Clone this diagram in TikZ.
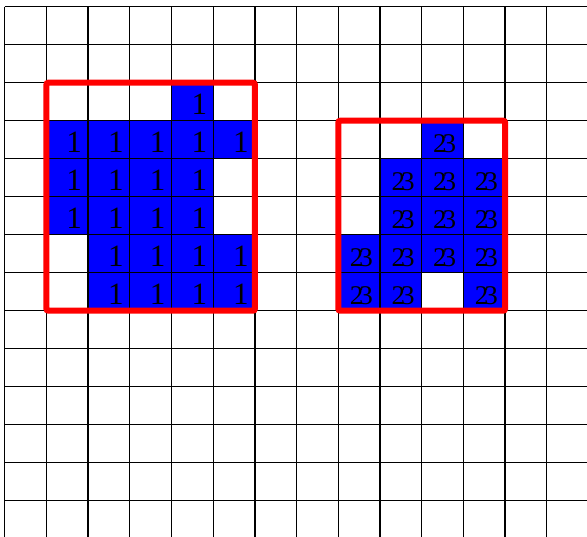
\documentclass[tikz,border=0pt]{standalone}
\usepackage{fontspec}
\setmainfont{Liberation Serif}
\begin{document}
\begin{tikzpicture}[x=1pt,y=-1pt,
  gridline/.style={black, line width=1.3pt},
  bluecell/.style={fill={rgb,255:red,0;green,0;blue,255}},
  redbox/.style={draw={rgb,255:red,255;green,0;blue,0}, line width=6pt, rounded corners=2pt},
  onelabel/.style={anchor=base east, inner sep=0pt, font=\fontsize{31}{31}\selectfont},
  twlabel/.style={anchor=base east, inner sep=0pt, font=\fontsize{27}{27}\selectfont}
]
\useasboundingbox (0,0) rectangle (587,537);
\fill[white] (0,0) rectangle (587,537);
\def\cw{41.7}
\def\ch{38}
\def\gx{4.7}
\def\gy{6.7}
% left group
\foreach \c/\r [count=\i] in {4/2, 1/3,2/3,3/3,4/3,5/3, 1/4,2/4,3/4,4/4, 1/5,2/5,3/5,4/5, 2/6,3/6,4/6,5/6, 2/7,3/7,4/7,5/7}{
  \fill[bluecell] ({\gx+\cw*\c},{\gy+\ch*\r}) rectangle ({\gx+\cw*(\c+1)},{\gy+\ch*(\r+1)});
}
% right group
\foreach \c/\r [count=\i] in {10/3, 9/4,10/4,11/4, 9/5,10/5,11/5, 8/6,9/6,10/6,11/6, 8/7,9/7,11/7}{
  \fill[bluecell] ({\gx+\cw*\c},{\gy+\ch*\r}) rectangle ({\gx+\cw*(\c+1)},{\gy+\ch*(\r+1)});
}
% grid
\foreach \k in {0,...,13}{
  \draw[gridline] ({\gx+\cw*\k},\gy) -- ({\gx+\cw*\k},537);
  \draw[gridline] (\gx,{\gy+\ch*\k}) -- (587,{\gy+\ch*\k});
}
% labels
\foreach \c/\r [count=\i] in {4/2, 1/3,2/3,3/3,4/3,5/3, 1/4,2/4,3/4,4/4, 1/5,2/5,3/5,4/5, 2/6,3/6,4/6,5/6, 2/7,3/7,4/7,5/7}{
  \node[onelabel] (one\i) at ({\gx+\cw*(\c+1)-6},{\gy+\ch*(\r+1)-6}) {1};
}
\foreach \c/\r [count=\i] in {10/3, 9/4,10/4,11/4, 9/5,10/5,11/5, 8/6,9/6,10/6,11/6, 8/7,9/7,11/7}{
  \node[twlabel] (tw\i) at ({\gx+\cw*(\c+1)-7},{\gy+\ch*(\r+1)-6.5}) {2\kern-4pt 3};
}
% red boxes
\draw[redbox] ({\gx+\cw*1},{\gy+\ch*2}) rectangle ({\gx+\cw*6},{\gy+\ch*8});
\draw[redbox] ({\gx+\cw*8},{\gy+\ch*3}) rectangle ({\gx+\cw*12},{\gy+\ch*8});
\end{tikzpicture}
\end{document}
